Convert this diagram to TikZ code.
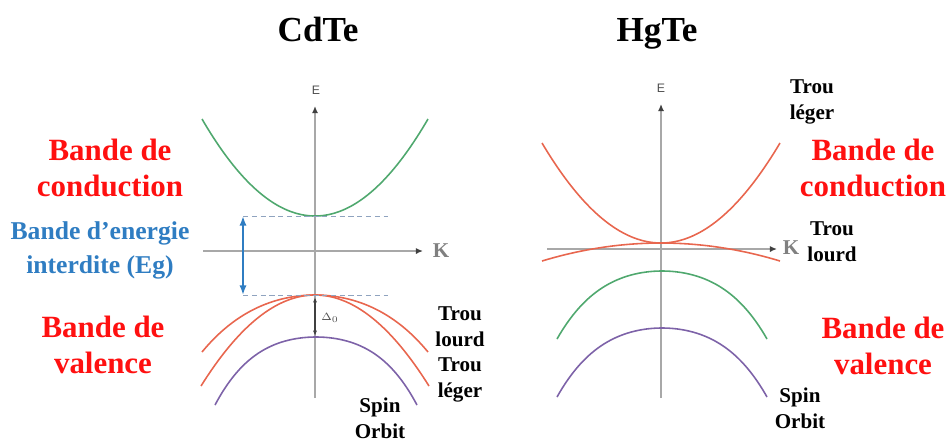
\documentclass[tikz,border=0pt]{standalone}
\usepackage{fontspec}
\setmainfont{Liberation Serif}
\newfontfamily\axisfont{Liberation Sans}
\usetikzlibrary{arrows.meta}
\definecolor{condgreen}{HTML}{4FA86E}
\definecolor{holered}{HTML}{E8664E}
\definecolor{sopurple}{HTML}{7D62A8}
\definecolor{gapblue}{HTML}{2F7DC2}
\definecolor{axisgray}{HTML}{A8A8A8}
\definecolor{labelred}{HTML}{FF1010}
\definecolor{levelgray}{HTML}{8FA3BF}
\tikzset{
  title/.style={anchor=base,font=\fontsize{20}{24}\selectfont\bfseries},
  bandlabel/.style={align=center,text=labelred,font=\fontsize{17.6}{20.5}\selectfont\bfseries},
  gaplabel/.style={align=center,text=gapblue,font=\fontsize{14.6}{19.3}\selectfont\bfseries},
  holelabel/.style={align=center,font=\fontsize{12}{15}\selectfont\bfseries},
  axis/.style={draw=axisgray,line width=1.1pt,-{Latex[length=4pt,width=3.5pt,color=black!75]}},
  axislabel/.style={text=black!70,font=\axisfont\fontsize{7}{8}\selectfont},
  klabel/.style={text=gray,font=\fontsize{12}{14}\selectfont\bfseries},
  bandline/.style={line width=0.9pt},
  levelline/.style={draw=levelgray,densely dashed,line width=0.5pt},
  gaparrow/.style={draw=gapblue,line width=1.7pt,{Latex[length=5.5pt]}-{Latex[length=5.5pt]}},
  soarrow/.style={draw=black!75,line width=0.6pt,{Latex[length=3pt]}-{Latex[length=3pt]}},
  solabel/.style={text=black!70,font=\fontsize{6}{7}\selectfont}
}
% colour, centre x, apex y, half width, depth, quadratic share
\newcommand{\bandcurve}[6]{%
  \draw[bandline,#1] plot[domain=-#4:#4,samples=81]
    ({#2+\x},{#3+#5*(#6*(\x/#4)*(\x/#4)+(1-#6)*(\x/#4)*(\x/#4)*(\x/#4)*(\x/#4))});}

\begin{document}
\begin{tikzpicture}[x=0.02cm,y=-0.02cm]
  \useasboundingbox (0,0) rectangle (946,441);
  % CdTe
  \node[title] (cdtitle) at (318,41) {CdTe};
  \coordinate (cdEbot) at (315,398);
  \coordinate (cdEtop) at (315,106);
  \coordinate (cdKleft) at (203,251);
  \coordinate (cdKright) at (423,251);
  \draw[axis] (cdEbot) -- (cdEtop);
  \draw[axis] (cdKleft) -- (cdKright);
  \node[axislabel] (cdE) at (316,90) {E};
  \node[klabel] (cdK) at (441,251) {K};
  \bandcurve{condgreen}{315}{216}{113}{-97}{1}
  \bandcurve{holered}{315}{295}{113}{57}{0.8}
  \bandcurve{holered}{315}{295}{114}{91}{1}
  \bandcurve{sopurple}{316}{337}{101}{68}{0.6}
  \coordinate (cbmL) at (243,216);
  \coordinate (cbmR) at (388,216);
  \coordinate (vbmL) at (243,295);
  \coordinate (vbmR) at (388,295);
  \draw[levelline] (cbmL) -- (cbmR);
  \draw[levelline] (vbmL) -- (vbmR);
  \draw[gaparrow] (cbmL) -- (vbmL);
  \coordinate (sotop) at (315,297);
  \coordinate (sobot) at (315,336);
  \draw[soarrow] (sotop) -- (sobot);
  \node[solabel] (delta) at (330,318) {$\Delta_0$};
  \node[bandlabel] (cdcond) at (110,168) {Bande de\\conduction};
  \node[gaplabel] (cdgap) at (100,250) {Bande d’energie\\interdite (Eg)};
  \node[bandlabel] (cdval) at (103,345) {Bande de\\valence};
  \node[holelabel] (cdheavy) at (460,327) {Trou\\lourd};
  \node[holelabel] (cdlight) at (460,380) {Trou\\léger};
  \node[holelabel] (cdso) at (380,418) {Spin\\Orbit};
  % HgTe
  \node[title] (hgtitle) at (657,41) {HgTe};
  \coordinate (hgEbot) at (661,398);
  \coordinate (hgEtop) at (661,104);
  \coordinate (hgKleft) at (547,249);
  \coordinate (hgKright) at (777,249);
  \draw[axis] (hgEbot) -- (hgEtop);
  \draw[axis] (hgKleft) -- (hgKright);
  \node[axislabel] (hgE) at (661,88) {E};
  \node[klabel] (hgK) at (791,248) {K};
  \bandcurve{holered}{661}{243}{119}{-100}{1}
  \bandcurve{holered}{661}{243}{119}{18}{1}
  \bandcurve{condgreen}{662}{271}{105}{68}{0.65}
  \bandcurve{sopurple}{662}{328}{105}{69}{0.65}
  \node[holelabel] (hglight) at (812,102) {Trou\\léger};
  \node[bandlabel] (hgcond) at (873,168) {Bande de\\conduction};
  \node[holelabel] (hgheavy) at (832,242) {Trou\\lourd};
  \node[bandlabel] (hgval) at (883,346) {Bande de\\valence};
  \node[holelabel] (hgso) at (800,408) {Spin\\Orbit};
\end{tikzpicture}
\end{document}
